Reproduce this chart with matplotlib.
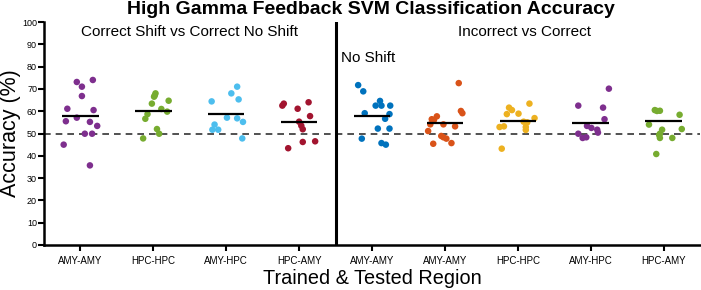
import matplotlib
matplotlib.use("Agg")
import matplotlib.pyplot as plt

plt.rcParams['font.family'] = ['Liberation Sans', 'DejaVu Sans']

categories = ["AMY-AMY", "HPC-HPC", "AMY-HPC", "HPC-AMY",
              "AMY-AMY", "AMY-AMY", "HPC-HPC", "AMY-HPC", "HPC-AMY"]
colors = ["#7E2F8E", "#77AC30", "#4DBEEE", "#A2142F",
          "#0072BD", "#D95319", "#EDB120", "#7E2F8E", "#77AC30"]

acc_g1 = [73.1, 74.0, 71.0, 66.8, 61.1, 60.5, 57.1, 55.5, 55.2, 53.4, 49.9, 49.9, 45.0, 35.7]
acc_g2 = [68.0, 66.5, 67.1, 64.7, 63.4, 61.0, 59.8, 58.7, 56.6, 52.0, 49.9, 47.8]
acc_g3 = [71.0, 68.0, 65.3, 64.4, 57.1, 56.8, 55.2, 54.0, 51.7, 51.7, 47.8]
acc_g4 = [63.4, 62.5, 64.0, 61.1, 57.8, 55.3, 53.5, 51.9, 46.5, 46.2, 43.4]
acc_g5 = [71.7, 68.9, 64.6, 62.5, 62.5, 62.5, 59.1, 58.7, 56.6, 52.2, 52.2, 47.7, 45.7, 45.0]
acc_g6 = [72.6, 60.1, 59.1, 57.7, 56.4, 56.1, 54.1, 54.1, 53.2, 51.1, 48.9, 48.3, 47.7, 45.7, 45.4]
acc_g7 = [63.4, 61.6, 60.5, 58.9, 58.7, 56.9, 55.3, 55.0, 52.9, 53.2, 52.9, 51.6, 43.2]
acc_g8 = [70.1, 62.5, 61.6, 56.4, 53.4, 52.5, 51.7, 50.4, 49.9, 48.0, 48.3]
acc_g9 = [60.5, 60.1, 60.2, 58.4, 54.0, 51.7, 52.0, 49.9, 49.3, 48.0, 48.0, 40.8]
group_means = [57.7, 60.0, 58.6, 55.2, 57.8, 54.6, 55.6, 54.6, 55.7]

# horizontal jitter (category units) as seen in the reference
jit_g1 = [-0.05, 0.17, 0.02, 0.02, -0.18, 0.18, -0.05, -0.20, 0.13, 0.23, 0.06, 0.16, -0.23, 0.13]
jit_g2 = [0.03, 0.01, 0.02, 0.21, -0.02, 0.11, 0.19, -0.08, -0.11, 0.05, 0.08, -0.14]
jit_g3 = [0.15, 0.07, 0.17, -0.20, 0.01, 0.15, 0.23, -0.16, -0.19, -0.11, 0.22]
jit_g4 = [-0.21, -0.23, 0.13, -0.02, 0.15, 0.00, 0.03, 0.05, 0.22, 0.05, -0.15]
jit_g5 = [-0.19, -0.12, 0.11, 0.05, 0.13, 0.25, -0.10, 0.24, 0.18, 0.08, 0.24, -0.14, 0.13, 0.19]
jit_g6 = [0.19, 0.22, 0.24, -0.11, -0.18, -0.15, -0.20, -0.02, 0.14, -0.23, -0.05, -0.02, 0.02, 0.09, -0.16]
jit_g7 = [0.16, -0.12, -0.08, 0.01, -0.15, 0.23, 0.08, 0.13, -0.25, -0.19, 0.11, 0.11, -0.22]
jit_g8 = [0.25, -0.17, 0.17, 0.19, -0.05, 0.01, 0.09, 0.10, -0.17, -0.11, -0.06]
jit_g9 = [-0.12, -0.09, -0.05, 0.22, -0.20, -0.02, 0.25, -0.05, -0.06, -0.05, 0.12, -0.10]

groups = [acc_g1, acc_g2, acc_g3, acc_g4, acc_g5, acc_g6, acc_g7, acc_g8, acc_g9]
jitters = [jit_g1, jit_g2, jit_g3, jit_g4, jit_g5, jit_g6, jit_g7, jit_g8, jit_g9]

fig = plt.figure(figsize=(7.01, 2.90), dpi=100)
ax = fig.add_axes([44/701, 1-245/290, (700-44)/701, (245-22)/290])

ax.axhline(50, color="#333333", ls=(0, (4, 3)), lw=1.2, zorder=1)

for i, (vals, jit, c, m) in enumerate(zip(groups, jitters, colors, group_means)):
    xs = [i + j for j in jit]
    ax.scatter(xs, vals, s=22, color=c, edgecolors='none', zorder=3)
    ax.plot([i - 0.25, i + 0.25], [m, m], color='black', lw=1.6, zorder=4,
            solid_capstyle='butt')

ax.plot([3.5, 3.5], [0, 100], color='black', lw=2.2, zorder=5)

ax.set_xlim(-0.5, 8.5)
ax.set_ylim(0, 100)
ax.set_xticks(range(len(categories)))
ax.set_xticklabels(categories, fontsize=7)
ax.set_yticks(range(0, 101, 10))
ax.tick_params(axis='y', labelsize=6.5, length=4, width=1.5, pad=1)
ax.tick_params(axis='x', length=4, width=1.5, pad=4)
for s in ['top', 'right']:
    ax.spines[s].set_visible(False)
for s in ['left', 'bottom']:
    ax.spines[s].set_linewidth(1.8)

ax.set_ylabel("Accuracy (%)", fontsize=15.5, labelpad=1)
ax.set_xlabel("Trained & Tested Region", fontsize=14.3, labelpad=2)

fig.text(371/701, 1 - 1/290, "High Gamma Feedback SVM Classification Accuracy",
         ha='center', va='top', fontsize=14, fontweight='bold')
ax.text(1.5, 95.5, "Correct Shift vs Correct No Shift", ha='center', va='center', fontsize=11)
ax.text(6.09, 95.5, "Incorrect vs Correct", ha='center', va='center', fontsize=11)
ax.text(3.58, 84, "No Shift", ha='left', va='center', fontsize=11)

fig.savefig("out.png", dpi=100)
